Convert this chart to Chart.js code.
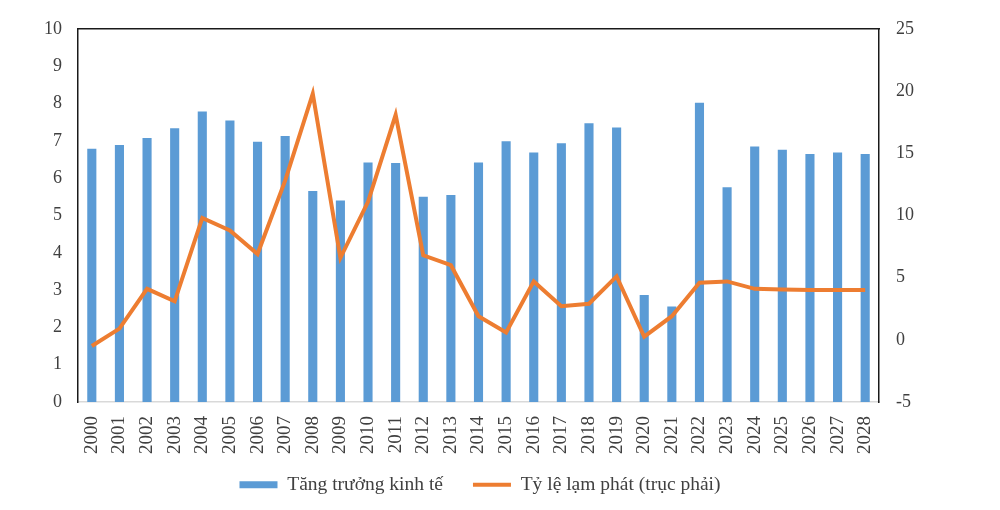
<!DOCTYPE html>
<html>
<head>
<meta charset="utf-8">
<script src="https://cdn.jsdelivr.net/npm/chart.js@4.4.1/dist/chart.umd.min.js"></script>
<style>
  html, body { margin: 0; padding: 0; background: #fff; }
  #wrap { width: 1000px; height: 510px; }
</style>
</head>
<body>
<div id="wrap"><canvas id="chart"></canvas></div>
<script>
// Years on the x axis
const years = [
  '2000', '2001', '2002', '2003', '2004', '2005', '2006', '2007', '2008', '2009',
  '2010', '2011', '2012', '2013', '2014', '2015', '2016', '2017', '2018', '2019',
  '2020', '2021', '2022', '2023', '2024', '2025', '2026', '2027', '2028'
]

// Tăng trưởng kinh tế (%), left axis
const growth = [
  6.79, 6.89, 7.08, 7.34, 7.79, 7.55, 6.98, 7.13, 5.66, 5.40,
  6.42, 6.41, 5.50, 5.55, 6.42, 6.99, 6.69, 6.94, 7.47, 7.36,
  2.87, 2.56, 8.02, 5.76, 6.85, 6.76, 6.65, 6.69, 6.65
]

// Tỷ lệ lạm phát (%), right axis
const inflation = [
  -0.5, 0.9, 4.1, 3.1, 9.8, 8.8, 6.9, 12.8, 19.8, 6.6,
  11.1, 18.1, 6.8, 6.0, 1.9, 0.6, 4.7, 2.7, 2.9, 5.1,
  0.25, 1.9, 4.6, 4.7, 4.1, 4.05, 4.0, 4.0, 4.0
]

const seriesNames = ['Tăng trưởng kinh tế', 'Tỷ lệ lạm phát (trục phải)']

const leftTicks = { min: 0, max: 10, step: 1 }
const rightTicks = { min: -5, max: 25, step: 5 }

const BLUE = '#5B9BD5'
const ORANGE = '#ED7D31'
const TEXT = '#404040'
const FONT = 'Liberation Serif'

const fixWidth = w => scale => { scale.width = w }
const fixHeight = h => scale => { scale.height = h }

// x labels are clipped to their own box, so the axis has to be tall;
// the legend is then pulled back up under the labels after layout.
const liftLegend = {
  id: 'liftLegend',
  afterLayout(chart) {
    const lg = chart.legend
    lg.top -= 13
    lg.bottom -= 13
  }
}

const config = {
  type: 'bar',
  data: {
    labels: years,
    datasets: [
      {
        type: 'line',
        label: seriesNames[1],
        data: inflation,
        yAxisID: 'y2',
        borderColor: ORANGE,
        backgroundColor: ORANGE,
        borderWidth: 4,
        pointRadius: 0,
        tension: 0,
        order: 0
      },
      {
        type: 'bar',
        label: seriesNames[0],
        data: growth,
        yAxisID: 'y',
        backgroundColor: BLUE,
        borderWidth: 0,
        categoryPercentage: 1,
        barPercentage: 0.33,
        order: 1
      }
    ]
  },
  options: {
    responsive: true,
    maintainAspectRatio: false,
    animation: false,
    layout: { padding: { top: 29, left: 0, right: 40, bottom: -7.5 } },
    scales: {
      x: {
        grid: { display: false },
        border: { display: true, color: '#d9d9d9', width: 1.5 },
        ticks: {
          color: TEXT,
          font: { family: FONT, size: 19 },
          minRotation: 90,
          maxRotation: 90,
          padding: 6,
          autoSkip: false
        },
        afterFit: fixHeight(56)
      },
      top: {
        position: 'top',
        grid: { display: false },
        border: { display: true, color: '#1a1a1a', width: 1.5 },
        ticks: { display: false },
        afterFit: fixHeight(0)
      },
      y: {
        position: 'left',
        min: leftTicks.min,
        max: leftTicks.max,
        grid: { display: false },
        border: { display: true, color: '#1a1a1a', width: 1.5 },
        ticks: {
          stepSize: leftTicks.step,
          color: TEXT,
          font: { family: FONT, size: 18 },
          padding: 8
        },
        afterFit: fixWidth(78)
      },
      y2: {
        position: 'right',
        min: rightTicks.min,
        max: rightTicks.max,
        grid: { display: false },
        border: { display: true, color: '#1a1a1a', width: 1.5 },
        ticks: {
          stepSize: rightTicks.step,
          color: TEXT,
          font: { family: FONT, size: 18 },
          padding: 9
        },
        afterFit: fixWidth(81)
      }
    },
    plugins: {
      tooltip: { enabled: false },
      legend: {
        position: 'bottom',
        reverse: true,
        labels: {
          color: TEXT,
          font: { family: FONT, size: 19.5 },
          usePointStyle: true,
          pointStyleWidth: 38,
          boxHeight: 7,
          padding: 30,
          generateLabels: chart => chart.data.datasets.map((ds, i) => ({
            text: ds.label,
            datasetIndex: i,
            fillStyle: ds.type === 'line' ? ORANGE : BLUE,
            strokeStyle: ds.type === 'line' ? ORANGE : BLUE,
            lineWidth: ds.type === 'line' ? 4 : 0,
            pointStyle: ds.type === 'line' ? 'line' : 'rect',
            fontColor: TEXT,
            hidden: false
          }))
        }
      }
    }
  },
  plugins: [liftLegend]
}

new Chart(document.getElementById('chart'), config)
</script>
</body>
</html>
